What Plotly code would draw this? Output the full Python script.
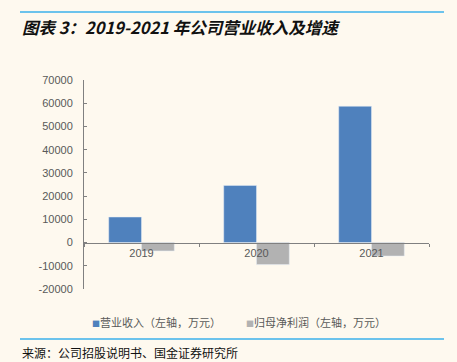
import plotly.graph_objects as go

years = ["2019", "2020", "2021"]
revenue = [11000, 24600, 58700]
net_profit = [-3600, -9500, -5800]
series_names = ["营业收入（左轴，万元）", "归母净利润（左轴，万元）"]
y_ticks = [-20000, -10000, 0, 10000, 20000, 30000, 40000, 50000, 60000, 70000]

BLUE = "#4F81BD"
GRAY = "#B2B2B2"
BG = "#FEF9EF"
W, H = 457, 362
L, R, T, B = 84, 28, 80, 73

fig = go.Figure()
fig.add_trace(go.Bar(x=years, y=revenue, name=series_names[0], marker_color=BLUE, showlegend=False))
fig.add_trace(go.Bar(x=years, y=net_profit, name=series_names[1], marker_color=GRAY, showlegend=False))

ymin, ymax = -20000, 70000
zero_pos = (0 - ymin) / (ymax - ymin)

fig.update_layout(
    width=W, height=H,
    margin=dict(l=L, r=R, t=T, b=B, pad=0),
    paper_bgcolor=BG, plot_bgcolor=BG,
    barmode="group", bargap=0.43, bargroupgap=0,
    font=dict(family="Liberation Sans, Arial, sans-serif", size=11, color="#595959"),
    xaxis=dict(
        type="category", range=[-0.5, 2.5], anchor="free", position=zero_pos,
        showline=True, linecolor="#808080", linewidth=1,
        ticks="outside", ticklen=3, tickcolor="#808080", tickson="boundaries",
        showgrid=False, zeroline=False,
        tickfont=dict(size=11, color="#595959"),
    ),
    yaxis=dict(
        range=[ymin, ymax], tickvals=y_ticks, ticktext=[str(v) for v in y_ticks],
        showline=True, linecolor="#808080", linewidth=1,
        ticks="inside", ticklen=3, tickcolor="#808080",
        showgrid=False, zeroline=False,
        ticklabelstandoff=8,
        tickfont=dict(size=11, color="#595959"),
    ),
)

cjk = "Noto Sans CJK SC"
plot_w = W - L - R
plot_h = H - T - B
# title
fig.add_annotation(
    xref="paper", yref="paper",
    x=(20 - L) / plot_w, y=1 + (T - 27) / plot_h,
    xanchor="left", yanchor="middle", showarrow=False,
    text="<b><i>图表 3：2019-2021 年公司营业收入及增速</i></b>",
    font=dict(family=cjk, size=16.5, color="#111111"),
)
# legend (manual)
leg_y = -(322 - (H - B)) / plot_h
fig.add_annotation(
    xref="paper", yref="paper", x=(90 - L) / plot_w, y=leg_y,
    xanchor="left", yanchor="middle", showarrow=False,
    text=f"<span style='color:{BLUE};font-size:8px'>■</span>" + series_names[0],
    font=dict(family=cjk, size=11, color="#595959"),
)
fig.add_annotation(
    xref="paper", yref="paper", x=(244 - L) / plot_w, y=leg_y,
    xanchor="left", yanchor="middle", showarrow=False,
    text=f"<span style='color:{GRAY};font-size:8px'>■</span>" + series_names[1],
    font=dict(family=cjk, size=11, color="#595959"),
)
# source
fig.add_annotation(
    xref="paper", yref="paper", x=(20 - L) / plot_w, y=-(352 - (H - B)) / plot_h,
    xanchor="left", yanchor="middle", showarrow=False,
    text="来源：公司招股说明书、国金证券研究所",
    font=dict(family=cjk, size=12, color="#111111"),
)
# rules
for yp in (12, 339):
    yy = 1 - (yp - T) / plot_h
    fig.add_shape(type="line", xref="paper", yref="paper",
                  x0=(20 - L) / plot_w, x1=(444 - L) / plot_w, y0=yy, y1=yy,
                  line=dict(color="#6CC3EC", width=2))

fig.write_html(
    "out.html",
    config={"displayModeBar": False},
    post_script="document.body.style.margin='0';document.body.style.padding='0';document.body.style.background='" + BG + "';",
)
